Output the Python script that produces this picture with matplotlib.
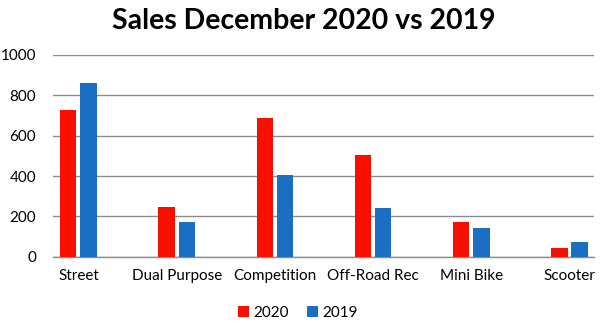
import matplotlib.pyplot as plt
import numpy as np

categories = ["Street", "Dual Purpose", "Competition", "Off-Road Rec", "Mini Bike", "Scooter"]
sales_2020 = [727, 245, 688, 504, 172, 42]
sales_2019 = [860, 172, 407, 243, 141, 71]
yticks = [0, 200, 400, 600, 800, 1000]

plt.rcParams['font.family'] = ['Lato', 'DejaVu Sans']

fig = plt.figure(figsize=(6.08, 3.24), dpi=100)
ax = fig.add_axes([0.087, 0.2077, 0.890, 0.6226])

x = np.arange(len(categories))
w = 0.166
ax.bar(x - 0.103, sales_2020, w, color='#F70F00', label='2020', zorder=3)
ax.bar(x + 0.103, sales_2019, w, color='#1A6FC4', label='2019', zorder=3)

ax.set_xlim(-0.26, 5.25)
ax.set_ylim(0, 1000)
ax.set_yticks(yticks)
ax.set_xticks(x)
ax.set_xticklabels(categories, fontsize=11)
ax.tick_params(axis='y', labelsize=11, length=0, pad=12)
ax.tick_params(axis='x', length=0, pad=9)
ax.yaxis.grid(True, color='#8c8c8c', linewidth=1.0, zorder=0)
for s in ['top', 'right', 'left']:
    ax.spines[s].set_visible(False)
ax.spines['bottom'].set_color('#8c8c8c')
ax.spines['bottom'].set_linewidth(1.0)

fig.text(0.5, 0.935, "Sales December 2020 vs 2019", ha='center', va='center',
         fontsize=20.5, fontweight='bold')

fig.legend(loc='center', bbox_to_anchor=(0.49, 0.035), ncol=2, frameon=False,
           fontsize=11, handlelength=0.7, handleheight=0.7, handletextpad=0.3,
           columnspacing=1.2)

fig.savefig('out.png', dpi=100)
